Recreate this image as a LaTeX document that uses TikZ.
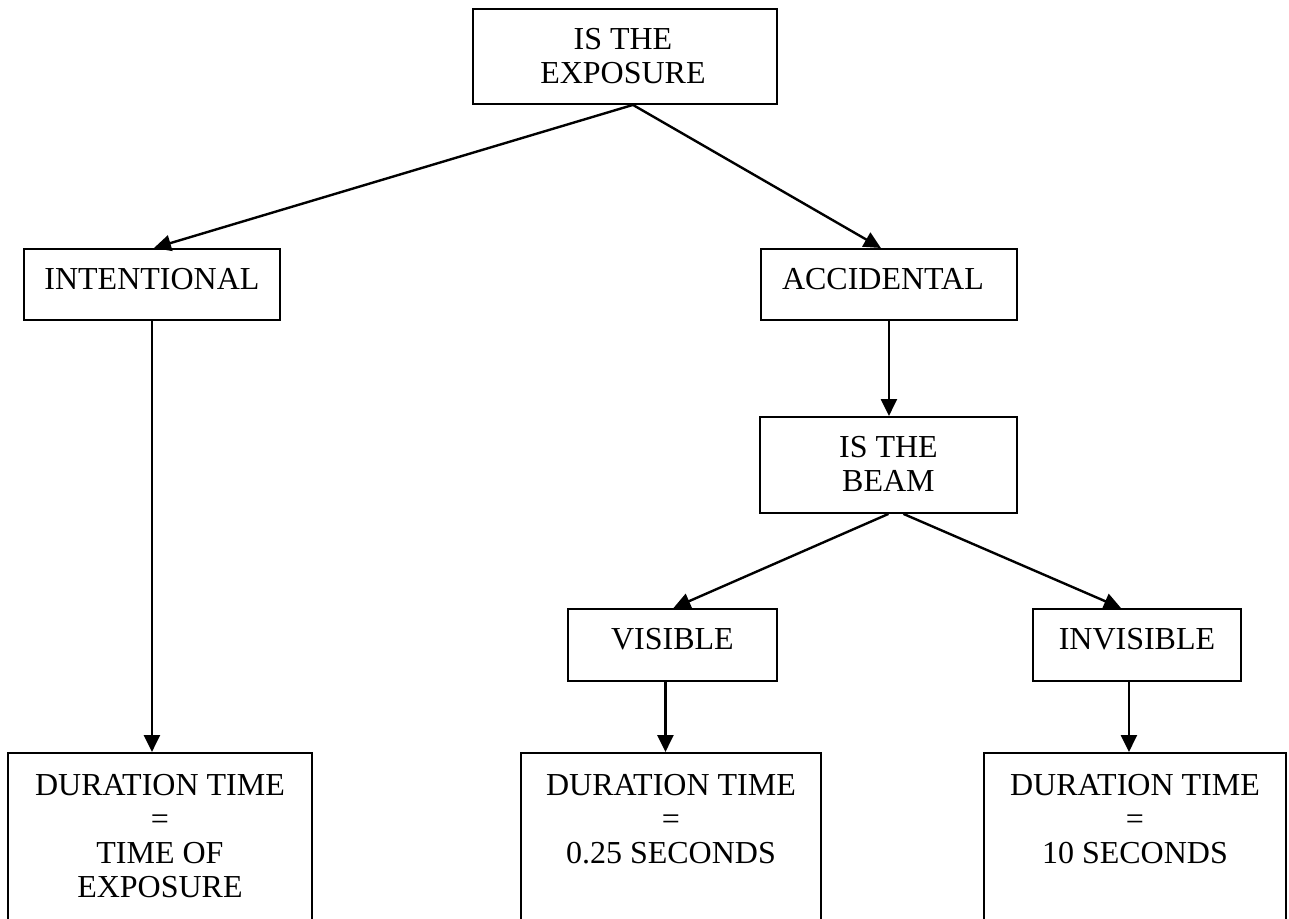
\documentclass[tikz,border=0pt]{standalone}
\usepackage{fontspec}
\setmainfont{Liberation Serif}
\usetikzlibrary{arrows.meta}
\begin{document}
\begin{tikzpicture}[x=1pt,y=-1pt,
  box/.style={draw, line width=1.9pt, rectangle, anchor=north west, inner sep=0pt},
  lbl/.style={anchor=north, inner sep=0pt, align=center, font=\fontsize{32}{34}\selectfont, yshift=-20pt},
  arr/.style={line width=2.4pt, -{Triangle[length=17pt,width=16pt]}}]
\clip (0,0) rectangle (1289,918);
\fill[white] (0,0) rectangle (1289,918);
% boxes
\node[box, minimum width=304pt, minimum height=95pt] (top) at (472,8) {};
\node[box, minimum width=256pt, minimum height=71pt] (intent) at (23,248) {};
\node[box, minimum width=256pt, minimum height=71pt] (accid) at (760,248) {};
\node[box, minimum width=257pt, minimum height=96pt] (beam) at (759,416) {};
\node[box, minimum width=209pt, minimum height=72pt] (vis) at (567,608) {};
\node[box, minimum width=208pt, minimum height=72pt] (invis) at (1032,608) {};
\node[box, minimum width=304pt, minimum height=200pt] (dur1) at (7,752) {};
\node[box, minimum width=300pt, minimum height=200pt] (dur2) at (520,752) {};
\node[box, minimum width=302pt, minimum height=200pt] (dur3) at (983,752) {};
% labels
\node[lbl, xshift=-2pt] (ttop) at (top.north) {IS THE\\EXPOSURE};
\node[lbl] (tintent) at (intent.north) {INTENTIONAL};
\node[lbl, xshift=-6pt] (taccid) at (accid.north) {ACCIDENTAL};
\node[lbl] (tbeam) at (beam.north) {IS THE\\BEAM};
\node[lbl] (tvis) at (vis.north) {VISIBLE};
\node[lbl] (tinvis) at (invis.north) {INVISIBLE};
\node[lbl, yshift=-2pt] (tdur1) at (dur1.north) {DURATION TIME\\=\\TIME OF\\EXPOSURE};
\node[lbl, yshift=-2pt] (tdur2) at (dur2.north) {DURATION TIME\\=\\0.25 SECONDS};
\node[lbl, yshift=-2pt] (tdur3) at (dur3.north) {DURATION TIME\\=\\10 SECONDS};
% connectors
\coordinate (topout) at ([xshift=8pt]top.south);
\draw[arr] (topout) -- ([xshift=2pt]intent.north);
\draw[arr] (topout) -- ([xshift=-8pt]accid.north);
\draw[arr] (intent.south) -- (intent.south |- dur1.north);
\draw[arr] (accid.south) -- (accid.south |- beam.north);
\draw[arr] (beam.south) -- ([xshift=1pt]vis.north);
\draw[arr] ([xshift=15pt]beam.south) -- ([xshift=-16pt]invis.north);
\coordinate (visout) at ([xshift=-7pt]vis.south);
\draw[arr] (visout) -- (visout |- dur2.north);
\coordinate (invisout) at ([xshift=-8pt]invis.south);
\draw[arr] (invisout) -- (invisout |- dur3.north);
\end{tikzpicture}
\end{document}
